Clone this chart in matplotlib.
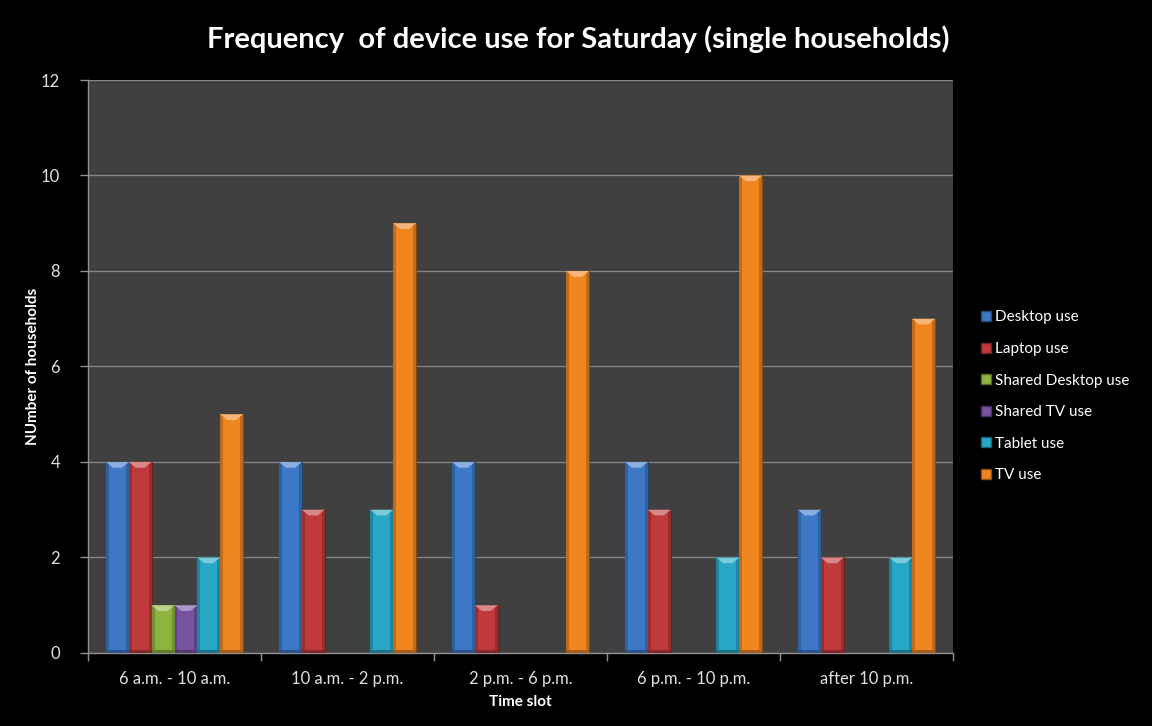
import matplotlib
matplotlib.use("Agg")
import matplotlib.pyplot as plt
from matplotlib.patches import Rectangle, Polygon
from matplotlib.lines import Line2D
import numpy as np

categories = ["6 a.m. - 10 a.m.", "10 a.m. - 2 p.m.", "2 p.m. - 6 p.m.",
              "6 p.m. - 10 p.m.", "after 10 p.m."]
series_names = ["Desktop use", "Laptop use", "Shared Desktop use",
                "Shared TV use", "Tablet use", "TV use"]
desktop = [4, 4, 4, 4, 3]
laptop = [4, 3, 1, 3, 2]
shared_desktop = [1, 0, 0, 0, 0]
shared_tv = [1, 0, 0, 0, 0]
tablet = [2, 3, 0, 2, 2]
tv = [5, 9, 8, 10, 7]
series_values = [desktop, laptop, shared_desktop, shared_tv, tablet, tv]
colors = ["#3c78c6", "#c0393b", "#8db43f", "#7652a0", "#28a6c6", "#f0861f"]
yticks = [0, 2, 4, 6, 8, 10, 12]

plt.rcParams["font.family"] = ["Lato", "DejaVu Sans"]

def shade(c, f):
    rgb = np.array(matplotlib.colors.to_rgb(c))
    if f < 1:
        return tuple(rgb * f)
    return tuple(rgb + (1 - rgb) * (f - 1))

fig = plt.figure(figsize=(11.52, 7.26), dpi=100, facecolor="black")
ax = fig.add_axes([0.0764, 0.1006, 0.7509, 0.7892])
ax.set_facecolor("#404040")

n = len(series_names)
w = 0.132
x = np.arange(len(categories))
for i, (vals, col) in enumerate(zip(series_values, colors)):
    xs = x + (i - (n - 1) / 2) * w
    for xc, v in zip(xs, vals):
        if v <= 0:
            continue
        x0, x1 = xc - w / 2, xc + w / 2
        # base bar
        ax.add_patch(Rectangle((x0, 0), w, v, facecolor=col,
                               edgecolor=shade(col, 0.55), linewidth=0.8, zorder=3))
        # darker side bevels
        sw = w * 0.13
        ax.add_patch(Rectangle((x0, 0), sw, v, facecolor=shade(col, 0.8),
                               edgecolor="none", zorder=3.1))
        ax.add_patch(Rectangle((x1 - sw, 0), sw, v, facecolor=shade(col, 0.8),
                               edgecolor="none", zorder=3.1))
        # bright top bevel
        th = 0.12
        ax.add_patch(Polygon([(x0, v), (x1, v), (x1 - w * 0.3, v - th),
                              (x0 + w * 0.3, v - th)], closed=True,
                             facecolor=shade(col, 1.4), edgecolor="none", zorder=3.2))
        # bottom dark strip
        ax.add_patch(Rectangle((x0, 0), w, 0.06, facecolor=shade(col, 0.7),
                               edgecolor="none", zorder=3.1))

ax.set_xlim(-0.5, len(categories) - 0.5)
ax.set_ylim(0, 12)
ax.set_yticks(yticks)
ax.yaxis.grid(True, color="#888888", linewidth=0.9, zorder=1)
ax.set_axisbelow(True)

ax.set_xticks(x)
ax.set_xticklabels(categories)
ax.set_xticks(np.arange(len(categories) + 1) - 0.5, minor=True)
ax.tick_params(axis="x", which="major", length=0, pad=13, labelsize=12, colors="#e0e0e0")
ax.tick_params(axis="x", which="minor", length=6, color="#909090", width=1)
ax.tick_params(axis="y", length=6, color="#909090", width=1, labelsize=12,
               colors="#909090", labelcolor="#e0e0e0", pad=14)

for s in ["top", "right"]:
    ax.spines[s].set_visible(False)
for s in ["left", "bottom"]:
    ax.spines[s].set_color("#909090")
    ax.spines[s].set_linewidth(1)

ax.set_xlabel("Time slot", color="white", fontsize=11, fontweight="bold", labelpad=6)
ax.set_ylabel("NUmber of households", color="white", fontsize=11, fontweight="bold")
ax.yaxis.set_label_coords(-0.0555, 0.5)

fig.suptitle("Frequency  of device use for Saturday (single households)",
             color="white", fontsize=21, fontweight="bold", x=0.502, y=0.965)

handles = [Line2D([], [], marker="s", linestyle="none", markersize=7,
                  markerfacecolor=c, markeredgecolor=shade(c, 0.6))
           for c in colors]
leg = fig.legend(handles, series_names, loc="center left",
                 bbox_to_anchor=(0.837, 0.454), frameon=False, fontsize=11,
                 labelcolor="white", handletextpad=0.1, labelspacing=1.15,
                 handlelength=1.0)

fig.savefig("out.png", dpi=100, facecolor="black")
